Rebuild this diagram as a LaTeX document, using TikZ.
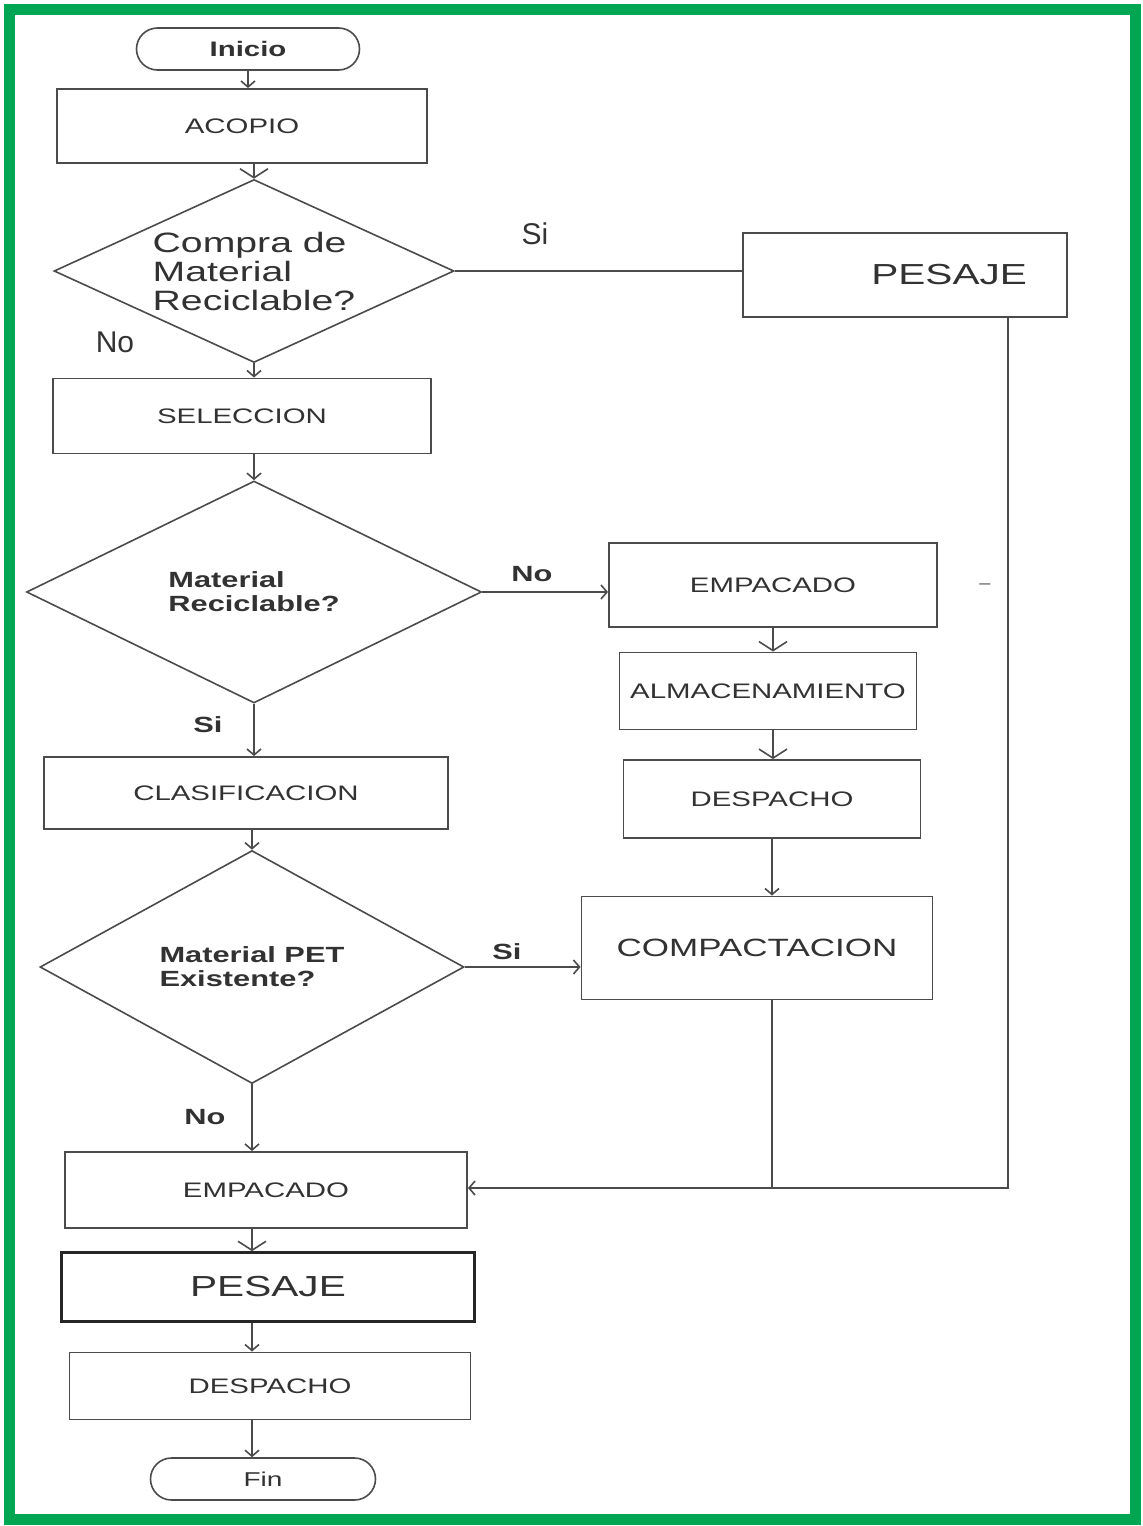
\documentclass[tikz,border=0pt]{standalone}
\usepackage{fontspec}
\setmainfont{Liberation Sans}
\newfontfamily\widefont{Liberation Sans}[FakeStretch=1.4]
\usepackage{tikz}
\usetikzlibrary{arrows.meta}
\usetikzlibrary{shapes.geometric}
\definecolor{marco}{RGB}{0,166,81}
\definecolor{linea}{RGB}{75,75,75}
\definecolor{letra}{RGB}{50,50,50}

\begin{document}
\begin{tikzpicture}[
  caja/.style={shape=rectangle, draw=linea, line width=1.9pt, text=letra, font=\widefont\fontsize{21}{24}\selectfont},
  rombo/.style={shape=diamond, aspect=2.2, draw=linea, line width=1.6pt, inner sep=0pt, align=left, text=letra},
  extremo/.style={shape=rectangle, rounded corners=21pt, draw=linea, line width=1.6pt, minimum height=42pt, text=letra, font=\widefont\bfseries\fontsize{21}{24}\selectfont},
  conector/.style={draw=linea, line width=1.6pt},
  arr/.style={conector, -{Straight Barb[length=6pt,width=14pt]}},
  bigarr/.style={conector, -{Straight Barb[length=9pt,width=28pt]}},
  etiq/.style={text=letra, font=\widefont\bfseries\fontsize{22}{24}\selectfont},
  grande/.style={text=black!80, font=\fontsize{30}{32}\selectfont}
]
\useasboundingbox (0pt,0pt) rectangle (1143pt,-1526pt);
\draw[draw=marco, line width=11pt] (9pt,-9pt) rectangle (1135pt,-1519pt);

% columna izquierda
\node[extremo, minimum width=223pt] (inicio) at (248pt,-49pt) {Inicio};
\node[caja, minimum width=370pt, minimum height=74pt] (acopio) at (242pt,-126pt) {ACOPIO};
\node[rombo, minimum width=400pt, minimum height=183pt, font=\widefont\fontsize{28}{29}\selectfont] (compra) at (254pt,-271pt) {Compra de\\Material\\Reciclable?};
\node[caja, minimum width=378pt, minimum height=75pt] (seleccion) at (242pt,-416pt) {SELECCION};
\node[rombo, minimum width=455pt, minimum height=222pt, font=\widefont\bfseries\fontsize{22}{24}\selectfont] (material) at (254pt,-592pt) {Material\\Reciclable?};
\node[caja, minimum width=404pt, minimum height=72pt] (clasificacion) at (246pt,-793pt) {CLASIFICACION};
\node[rombo, minimum width=424pt, minimum height=233pt, font=\widefont\bfseries\fontsize{22}{24}\selectfont] (pet) at (252pt,-967pt) {Material PET\\Existente?};
\node[caja, minimum width=402pt, minimum height=76pt] (empacadoB) at (266pt,-1190pt) {EMPACADO};
\node[caja, minimum width=413pt, minimum height=69pt, draw=black!85, line width=2.6pt, font=\widefont\fontsize{29}{32}\selectfont] (pesajeB) at (268pt,-1287pt) {PESAJE};
\node[caja, minimum width=401pt, minimum height=67pt] (despachoB) at (270pt,-1386pt) {DESPACHO};
\node[extremo, minimum width=225pt, font=\widefont\fontsize{20}{24}\selectfont] (fin) at (263pt,-1479pt) {Fin};

% columna derecha
\node[caja, minimum width=324pt, minimum height=84pt, text width=244pt, align=right, font=\widefont\fontsize{29}{32}\selectfont] (pesajeA) at (905pt,-275pt) {PESAJE};
\node[caja, minimum width=328pt, minimum height=84pt] (empacadoA) at (773pt,-585pt) {EMPACADO};
\node[caja, minimum width=297pt, minimum height=77pt] (almacen) at (768pt,-691pt) {ALMACENAMIENTO};
\node[caja, minimum width=297pt, minimum height=78pt] (despachoA) at (772pt,-799pt) {DESPACHO};
\node[caja, minimum width=351pt, minimum height=103pt, font=\widefont\fontsize{25}{28}\selectfont] (compactacion) at (757pt,-948pt) {COMPACTACION};
\node[text=letra!70, font=\fontsize{20}{22}\selectfont] (guion) at (985pt,-587pt) {–};
\coordinate (esquina) at (1008pt,-1188pt);

% etiquetas
\node[grande] (siA) at (535pt,-234pt) {Si};
\node[grande] (noA) at (115pt,-342pt) {No};
\node[etiq] (noB) at (532pt,-574pt) {No};
\node[etiq] (siB) at (208pt,-725pt) {Si};
\node[etiq] (siC) at (507pt,-952pt) {Si};
\node[etiq] (noC) at (205pt,-1117pt) {No};

% conectores
\draw[arr] (inicio.south) -- (inicio.south |- acopio.north);
\draw[bigarr] (compra.north |- acopio.south) -- (compra.north);
\draw[conector] (compra.east) -- (compra.east -| pesajeA.west);
\draw[arr] (compra.south) -- (compra.south |- seleccion.north);
\draw[arr] (material.north |- seleccion.south) -- (material.north);
\draw[arr] (material.east) -- (material.east -| empacadoA.west);
\draw[arr] (material.south) -- (material.south |- clasificacion.north);
\draw[arr] (pet.north |- clasificacion.south) -- (pet.north);
\draw[arr] (pet.east) -- (pet.east -| compactacion.west);
\draw[arr] (pet.south) -- (pet.south |- empacadoB.north);
\draw[bigarr] (empacadoA.south) -- (empacadoA.south |- almacen.north);
\draw[bigarr] (empacadoA.south |- almacen.south) -- (empacadoA.south |- despachoA.north);
\draw[arr] (despachoA.south) -- (despachoA.south |- compactacion.north);
\draw[conector] (compactacion.south -| despachoA.south) -- (despachoA.south |- esquina);
\draw[arr] (pesajeA.south -| esquina) -- (esquina) -- (empacadoB.east |- esquina);
\draw[bigarr] (empacadoB.south -| pet.south) -- (pesajeB.north -| pet.south);
\draw[arr] (pesajeB.south -| pet.south) -- (despachoB.north -| pet.south);
\draw[arr] (despachoB.south -| pet.south) -- (fin.north -| pet.south);

\end{tikzpicture}
\end{document}
